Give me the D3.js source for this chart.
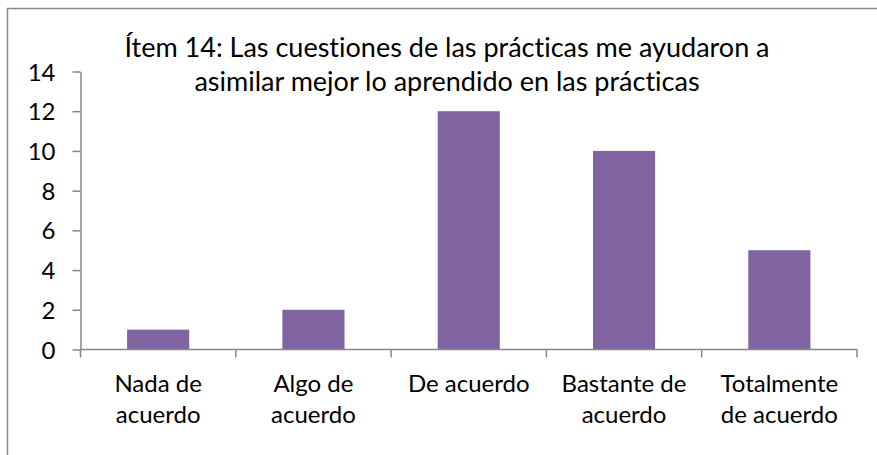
<!DOCTYPE html>
<html>
<head>
<meta charset="utf-8">
<script src="https://cdn.jsdelivr.net/npm/d3@7"></script>
<style>
  html, body { margin: 0; padding: 0; background: #ffffff; }
  svg { display: block; }
  text { font-family: Lato, "Open Sans", sans-serif; fill: #000; font-variant-ligatures: none; font-feature-settings: "liga" 0, "clig" 0; }
</style>
</head>
<body>
<svg id="chart" width="877" height="455"></svg>
<script>
// Responses per agreement level
const categories = [
  ["Nada de", "acuerdo"],
  ["Algo de", "acuerdo"],
  ["De acuerdo"],
  ["Bastante de", "acuerdo"],
  ["Totalmente", "de acuerdo"]
];
const values = [1, 2, 12, 10, 5];
const yTicks = [0, 2, 4, 6, 8, 10, 12, 14];
const titleLines = [
  "Ítem 14: Las cuestiones de las prácticas me ayudaron a",
  "asimilar mejor lo aprendido en las prácticas"
];

const svg = d3.select("#chart");
const W = 877, H = 455;
const plot = { left: 80.5, right: 857, top: 71.5, bottom: 349.5 };
const axisColor = "#868686";
const fontSize = 24;
const titleSize = 27;

// Outer chart frame
svg.append("rect")
  .attr("x", 7.5).attr("y", 8.5)
  .attr("width", W + 20).attr("height", H + 20)
  .attr("fill", "none")
  .attr("stroke", "#8a8a8a")
  .attr("stroke-width", 1.5);

const x = d3.scaleBand()
  .domain(d3.range(categories.length))
  .range([plot.left, plot.right])
  .paddingInner(0.6)
  .paddingOuter(0.3);

const y = d3.scaleLinear()
  .domain([0, 14])
  .range([plot.bottom, plot.top]);

// Bars
svg.append("g").selectAll("rect")
  .data(values)
  .join("rect")
  .attr("x", (d, i) => x(i))
  .attr("y", d => y(d))
  .attr("width", x.bandwidth())
  .attr("height", d => y(0) - y(d))
  .attr("fill", "#8064A2");

// Y axis
const yAxis = svg.append("g")
  .attr("transform", `translate(${plot.left},0)`)
  .call(d3.axisLeft(y).tickValues(yTicks).tickSize(8).tickPadding(17).tickSizeOuter(0));
yAxis.select(".domain").attr("stroke", axisColor).attr("stroke-width", 1.5);
yAxis.selectAll(".tick line").attr("stroke", axisColor).attr("stroke-width", 1.5);
yAxis.selectAll(".tick text")
  .attr("font-size", fontSize)
  .attr("font-family", "Lato, 'Open Sans', sans-serif")
  .attr("fill", "#000")
  .attr("dy", "0.36em");

// X axis: ticks at category boundaries
const bandStep = (plot.right - plot.left) / categories.length;
const boundaries = d3.range(categories.length + 1).map(i => plot.left + i * bandStep);
const xg = svg.append("g");
xg.append("line")
  .attr("x1", plot.left).attr("x2", plot.right)
  .attr("y1", y(0)).attr("y2", y(0))
  .attr("stroke", axisColor).attr("stroke-width", 1.5);
xg.selectAll("line.tick")
  .data(boundaries)
  .join("line")
  .attr("class", "tick")
  .attr("x1", d => d).attr("x2", d => d)
  .attr("y1", y(0)).attr("y2", y(0) + 8)
  .attr("stroke", axisColor).attr("stroke-width", 1.5);

// Category labels
xg.selectAll("text")
  .data(categories)
  .join("text")
  .attr("x", (d, i) => x(i) + x.bandwidth() / 2)
  .attr("y", 392)
  .attr("text-anchor", "middle")
  .attr("font-size", fontSize)
  .selectAll("tspan")
  .data(d => d)
  .join("tspan")
  .attr("x", function() { return this.parentNode.getAttribute("x"); })
  .attr("dy", (d, i) => i === 0 ? 0 : 31)
  .text(d => d);

// Title
svg.append("text")
  .attr("text-anchor", "middle")
  .attr("font-size", titleSize)
  .selectAll("tspan")
  .data(titleLines)
  .join("tspan")
  .attr("x", 447)
  .attr("y", (d, i) => 57 + i * 34)
  .text(d => d);
</script>
</body>
</html>
